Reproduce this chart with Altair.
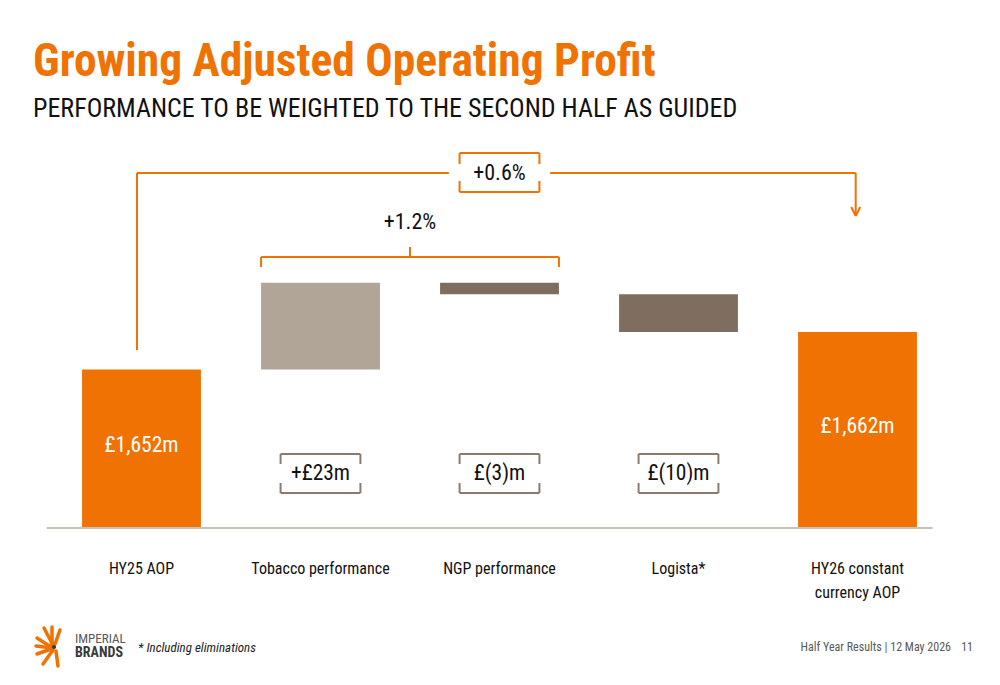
import altair as alt
import pandas as pd

# ---------------- data ----------------
categories = ["HY25 AOP", "Tobacco performance", "NGP performance", "Logista*", "HY26 constant currency AOP"]
cat_lines = [["HY25 AOP"], ["Tobacco performance"], ["NGP performance"], ["Logista*"], ["HY26 constant", "currency AOP"]]
values = [1652, 23, -3, -10, 1662]
kinds = ["total", "delta", "delta", "delta", "total"]
value_labels = ["£1,652m", "+£23m", "£(3)m", "£(10)m", "£1,662m"]
bar_colors = ["#EF7203", "#B0A596", "#7F6E5F", "#7F6E5F", "#EF7203"]
group_growth = "+1.2%"
total_growth = "+0.6%"

FONT = "Roboto Condensed, Liberation Sans, Arial, sans-serif"
ORANGE = "#EF7203"
BOXGREY = "#8B7B6E"

# ---------------- geometry helpers ----------------
PAD_L, PLOT_W = 52, 895
PLOT_H = 528
Y0, Y1 = 1610, 1750
PXU = PLOT_H / (Y1 - Y0)          # pixels per £m


def yv(py):
    """pixel row -> value on y scale"""
    return Y0 + (PLOT_H - py) / PXU


def gx(px):
    return px - PAD_L


# running totals
rows = []
run = 0
for i, (c, v, k, lab, col) in enumerate(zip(categories, values, kinds, value_labels, bar_colors)):
    if k == "total":
        start, end = Y0, v
        run = v
    else:
        start, end = run, run + v
        run = run + v
    rows.append(dict(i=i, cat=c, start=start, end=end, kind=k, label=lab, color=col,
                     x0=i - 0.332, x1=i + 0.332))
bars = pd.DataFrame(rows)

xs = alt.Scale(domain=[-0.5, 4.5], nice=False, zero=False)
ys = alt.Scale(domain=[Y0, Y1], nice=False, zero=False)
X = lambda f: alt.X(f, type="quantitative", scale=xs, axis=None)
Y = lambda f: alt.Y(f, type="quantitative", scale=ys, axis=None)

base = alt.Chart(bars)

bar_layer = base.mark_rect().encode(
    x=X("x0"), x2="x1", y=Y("start"), y2="end",
    color=alt.Color("color:N", scale=None),
)

baseline = alt.Chart(pd.DataFrame({"a": [-0.53], "b": [4.42], "y": [Y0]})).mark_rule(
    color="#C9C0B8", strokeWidth=2).encode(x=X("a"), x2="b", y=Y("y"))

# labels inside total bars
tot = bars[bars.kind == "total"].copy()
tot["ty"] = [yv(446), yv(427)]
total_text = alt.Chart(tot).mark_text(font=FONT, fontSize=21.5, color="white", baseline="middle").encode(
    x=X("i"), y=Y("ty"), text="label:N")

# delta boxes
dl = bars[bars.kind == "delta"].copy()
box_top, box_bot, tick = yv(454), yv(493), 10 / PXU
seg = []
for _, r in dl.iterrows():
    l, rr = r.i - 0.223, r.i + 0.223
    seg += [
        dict(a=l, b=rr, y=box_top, y2=box_top),
        dict(a=l, b=rr, y=box_bot, y2=box_bot),
        dict(a=l, b=l, y=box_top, y2=box_top - tick),
        dict(a=rr, b=rr, y=box_top, y2=box_top - tick),
        dict(a=l, b=l, y=box_bot, y2=box_bot + tick),
        dict(a=rr, b=rr, y=box_bot, y2=box_bot + tick),
    ]
box_layer = alt.Chart(pd.DataFrame(seg)).mark_rule(color=BOXGREY, strokeWidth=2).encode(
    x=X("a"), x2="b", y=Y("y"), y2="y2")
dl["ty"] = yv(474)
delta_text = alt.Chart(dl).mark_text(font=FONT, fontSize=21.5, color="#111111", baseline="middle").encode(
    x=X("i"), y=Y("ty"), text="label:N")

# +1.2% bracket over tobacco + NGP
b_y = yv(257)
b_l, b_r = bars.x0[1], bars.x1[2]
b_c = (b_l + b_r) / 2
br = pd.DataFrame([
    dict(a=b_l, b=b_r, y=b_y, y2=b_y),
    dict(a=b_l, b=b_l, y=b_y, y2=b_y - 10 / PXU),
    dict(a=b_r, b=b_r, y=b_y, y2=b_y - 10 / PXU),
    dict(a=b_c, b=b_c, y=b_y, y2=b_y + 10 / PXU),
])
bracket = alt.Chart(br).mark_rule(color=ORANGE, strokeWidth=2).encode(x=X("a"), x2="b", y=Y("y"), y2="y2")
b_text = alt.Chart(pd.DataFrame({"x": [b_c], "y": [yv(222)], "t": [group_growth]})).mark_text(
    font=FONT, fontSize=22, color="#111111", baseline="middle").encode(x=X("x"), y=Y("y"), text="t:N")

# +0.6% arrow from HY25 to HY26
a_y = yv(173)
a_l, a_r = -0.025, 3.99
ob_l, ob_r = 2 - 0.223, 2 + 0.223
ob_t, ob_b = yv(153), yv(192)
ar = pd.DataFrame([
    dict(a=a_l, b=a_l, y=yv(350), y2=a_y),
    dict(a=a_l, b=ob_l - 0.06, y=a_y, y2=a_y),
    dict(a=ob_r + 0.06, b=a_r, y=a_y, y2=a_y),
    dict(a=a_r, b=a_r, y=a_y, y2=yv(215)),
    dict(a=ob_l, b=ob_r, y=ob_t, y2=ob_t),
    dict(a=ob_l, b=ob_r, y=ob_b, y2=ob_b),
    dict(a=ob_l, b=ob_l, y=ob_t, y2=ob_t - 11 / PXU),
    dict(a=ob_r, b=ob_r, y=ob_t, y2=ob_t - 11 / PXU),
    dict(a=ob_l, b=ob_l, y=ob_b, y2=ob_b + 11 / PXU),
    dict(a=ob_r, b=ob_r, y=ob_b, y2=ob_b + 11 / PXU),
    dict(a=a_r - 4.5 / 179, b=a_r, y=yv(207), y2=yv(216)),
    dict(a=a_r + 4.5 / 179, b=a_r, y=yv(207), y2=yv(216)),
])
arrow = alt.Chart(ar).mark_rule(color=ORANGE, strokeWidth=2).encode(x=X("a"), x2="b", y=Y("y"), y2="y2")
a_text = alt.Chart(pd.DataFrame({"x": [2], "y": [yv(173)], "t": [total_growth]})).mark_text(
    font=FONT, fontSize=22, color="#111111", baseline="middle").encode(x=X("x"), y=Y("y"), text="t:N")

# category labels
cl = []
for i, lines in enumerate(cat_lines):
    for j, ln in enumerate(lines):
        cl.append(dict(x=i, y=yv(574 + 24 * j), t=ln))
cat_text = alt.Chart(pd.DataFrame(cl)).mark_text(
    font=FONT, fontSize=16, color="#111111", baseline="alphabetic").encode(x=X("x"), y=Y("y"), text="t:N")

one = pd.DataFrame({"d": [0]})


def ptext(text, px, py, **kw):
    return alt.Chart(one).mark_text(text=text, font=FONT, baseline="alphabetic", **kw).encode(
        x=alt.value(gx(px)), y=alt.value(py))


title = ptext("Growing Adjusted Operating Profit", 33, 76, fontSize=45.5, fontWeight="bold",
              color=ORANGE, align="left")
subtitle = ptext("PERFORMANCE TO BE WEIGHTED TO THE SECOND HALF AS GUIDED", 33, 117,
                 fontSize=26, color="#111111", align="left")
foot1 = ptext("* Including eliminations", 138, 652, fontSize=13, fontStyle="italic",
              color="#222222", align="left")
foot2 = ptext("Half Year Results | 12 May 2026", 951, 651, fontSize=12, color="#595959", align="right")
foot3 = ptext("11", 973, 651, fontSize=12, color="#595959", align="right")
logo1 = ptext("IMPERIAL", 75, 643, fontSize=13, color="#5a5a5a", align="left")
logo2 = ptext("BRANDS", 75, 657, fontSize=14, fontWeight="bold", color="#3a3a3a", align="left")

# logo starburst rays (pixel decoration)
rays = [((54, 647), (44, 628)), ((52, 645), (52, 627)), ((55, 644), (60, 630)),
        ((51, 647), (37, 638)), ((51, 649), (37, 654)), ((53, 650), (43, 664)),
        ((56, 651), (58, 666)), ((52, 648), (36, 646))]
ray_layers = []
for (x1, y1), (x2, y2) in rays:
    ray_layers.append(alt.Chart(one).mark_rule(color=ORANGE, strokeWidth=3.5, strokeCap="round").encode(
        x=alt.value(gx(x1)), x2=alt.value(gx(x2)), y=alt.value(y1), y2=alt.value(y2)))
dot = alt.Chart(one).mark_point(filled=True, color="#3a3a3a", size=18, opacity=1).encode(
    x=alt.value(gx(54)), y=alt.value(647))

chart = alt.layer(
    bar_layer, baseline, total_text, box_layer, delta_text, bracket, b_text, arrow, a_text, cat_text,
    title, subtitle, foot1, foot2, foot3, logo1, logo2, *ray_layers, dot,
).properties(
    width=PLOT_W, height=PLOT_H,
    padding={"left": PAD_L, "top": 0, "right": 1000 - PAD_L - PLOT_W, "bottom": 685 - PLOT_H},
    autosize=alt.AutoSizeParams(type="none"),
    background="white",
).configure_view(stroke=None)

chart.save("out.html", embed_options={"renderer": "svg", "actions": False})
